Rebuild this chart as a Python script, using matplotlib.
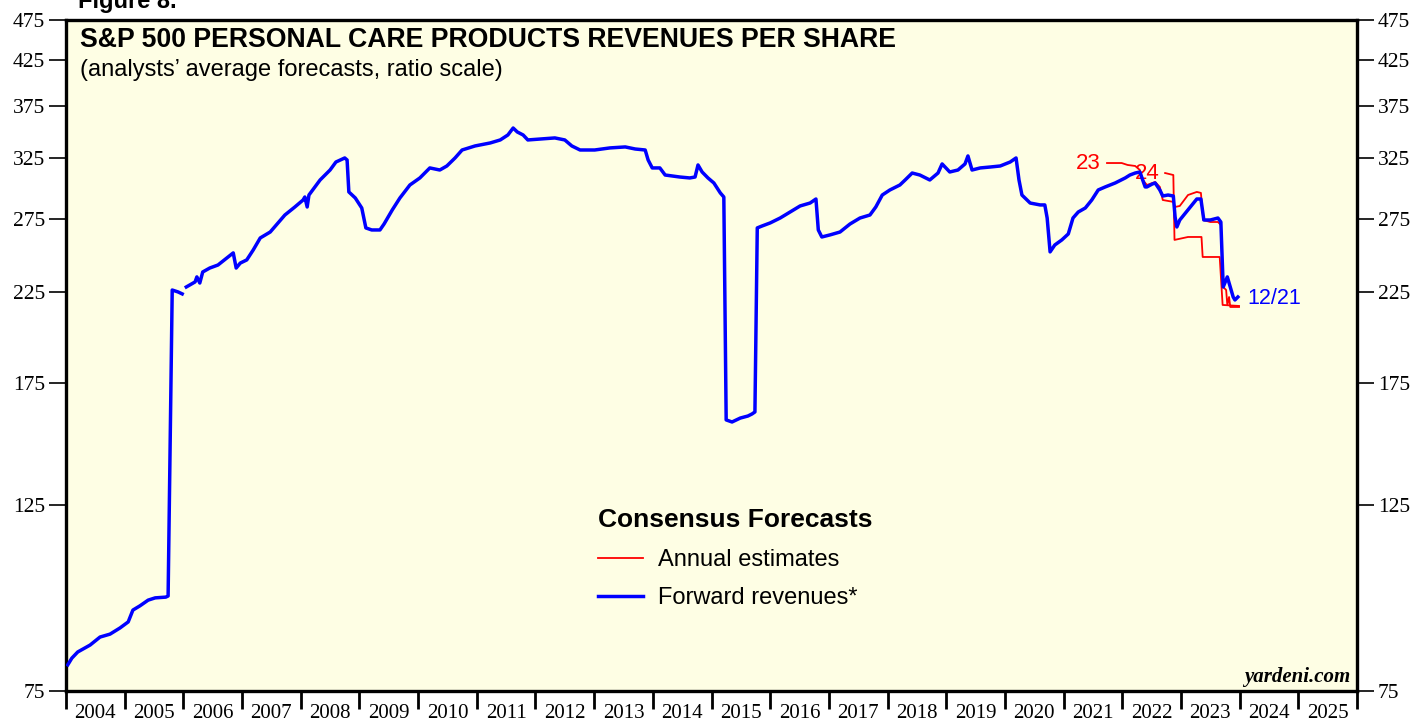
import numpy as np
import matplotlib
matplotlib.use("Agg")
import matplotlib.pyplot as plt
from matplotlib.ticker import FixedLocator, NullFormatter, FixedFormatter

# forward revenues per share (blue), year fraction / value
fwd_year = [
    2004.03, 2004.10, 2004.20, 2004.41, 2004.58, 2004.75, 2004.92, 2005.06, 2005.14, 2005.26,
    2005.40, 2005.52, 2005.70, 2005.74, 2005.81, 2005.91, 2005.98, 2006.01, 2006.05, 2006.20,
    2006.23, 2006.28, 2006.33, 2006.45, 2006.59, 2006.74, 2006.85, 2006.90, 2006.97, 2007.08,
    2007.19, 2007.31, 2007.48, 2007.73, 2007.90, 2008.04, 2008.07, 2008.11, 2008.14, 2008.33,
    2008.50, 2008.60, 2008.75, 2008.79, 2008.82, 2008.93, 2009.04, 2009.11, 2009.21, 2009.35,
    2009.42, 2009.56, 2009.69, 2009.86, 2010.03, 2010.20, 2010.37, 2010.49, 2010.63, 2010.75,
    2010.97, 2011.23, 2011.40, 2011.53, 2011.62, 2011.69, 2011.79, 2011.87, 2012.08, 2012.33,
    2012.50, 2012.62, 2012.76, 2013.01, 2013.27, 2013.53, 2013.70, 2013.87, 2013.92, 2013.99,
    2014.12, 2014.21, 2014.46, 2014.63, 2014.72, 2014.77, 2014.84, 2014.94, 2015.04, 2015.15,
    2015.21, 2015.25, 2015.35, 2015.49, 2015.62, 2015.69, 2015.74, 2015.78, 2015.86, 2016.00,
    2016.17, 2016.34, 2016.51, 2016.68, 2016.78, 2016.82, 2016.88, 2017.02, 2017.19, 2017.36,
    2017.53, 2017.70, 2017.80, 2017.91, 2018.04, 2018.21, 2018.30, 2018.42, 2018.55, 2018.72,
    2018.86, 2018.93, 2019.06, 2019.20, 2019.32, 2019.37, 2019.44, 2019.58, 2019.75, 2019.92,
    2020.09, 2020.19, 2020.24, 2020.29, 2020.43, 2020.60, 2020.68, 2020.72, 2020.77, 2020.85,
    2020.97, 2021.08, 2021.16, 2021.25, 2021.37, 2021.48, 2021.59, 2021.71, 2021.88, 2022.05,
    2022.13, 2022.22, 2022.30, 2022.39, 2022.42, 2022.51, 2022.56, 2022.64, 2022.69, 2022.78,
    2022.87, 2022.90, 2022.93, 2022.98, 2023.12, 2023.27, 2023.34, 2023.39, 2023.50, 2023.63,
    2023.68, 2023.72, 2023.79, 2023.84, 2023.89, 2023.92, 2023.97,
]
fwd_value = [
    80.6, 82.1, 83.5, 85.1, 87.0, 87.7, 89.2, 90.7, 93.7, 94.8,
    96.3, 96.9, 97.1, 97.4, 226.0, 224.8, 223.6, np.nan, 227.9, 231.1,
    234.3, 230.4, 237.5, 240.1, 242.1, 246.8, 250.3, 240.1, 243.4, 245.5,
    252.3, 260.8, 265.1, 277.8, 284.0, 289.5, 291.9, 284.0, 293.5, 305.9,
    314.4, 321.4, 325.0, 323.2, 296.0, 291.1, 283.2, 268.1, 266.6, 266.6,
    271.0, 281.7, 291.1, 301.7, 307.6, 316.2, 314.4, 317.9, 325.0, 332.2,
    335.9, 338.7, 341.5, 346.2, 352.9, 349.1, 346.2, 341.5, 342.4, 343.4,
    341.5, 335.9, 332.2, 332.2, 334.1, 335.0, 333.1, 332.2, 323.2, 316.2,
    316.2, 310.1, 308.4, 307.6, 308.4, 318.8, 312.7, 307.6, 303.4, 295.2,
    291.9, 158.1, 157.2, 158.9, 159.8, 160.7, 161.6, 268.1, 269.5, 271.8,
    275.5, 280.1, 284.8, 287.1, 290.3, 266.6, 261.5, 263.0, 265.1, 271.0,
    275.5, 277.8, 284.0, 293.5, 297.6, 301.7, 305.9, 311.8, 310.1, 305.9,
    311.8, 319.7, 312.7, 314.4, 319.7, 326.8, 314.4, 316.2, 317.0, 317.9,
    321.4, 325.0, 305.9, 293.5, 287.1, 285.6, 285.6, 275.5, 251.0, 255.8,
    259.4, 263.7, 275.5, 280.1, 283.2, 289.5, 297.6, 300.1, 303.4, 307.6,
    310.1, 311.8, 312.7, 300.1, 300.1, 302.5, 303.4, 297.6, 292.7, 293.5,
    292.7, 276.3, 268.8, 274.0, 281.7, 290.3, 290.3, 274.0, 274.0, 275.5,
    272.5, 227.9, 234.3, 227.9, 221.7, 219.9, 221.7,
]

# annual estimate for 2023 (red)
est23_year = [
    2021.74, 2021.99, 2022.09, 2022.22, 2022.30, 2022.35, 2022.42, 2022.56, 2022.64, 2022.69,
    2022.87, 2022.90, 2022.98, 2023.12, 2023.27, 2023.34, 2023.38, 2023.50, 2023.63, 2023.68,
    2023.72, 2023.77, 2023.79, 2023.82, 2023.84, 2023.99,
]
est23_value = [
    320.5, 320.5, 318.8, 317.9, 314.4, 305.9, 301.7, 304.2, 300.1, 289.5,
    288.0, 284.0, 284.8, 293.5, 296.0, 295.2, 274.0, 272.5, 272.5, 270.3,
    227.9, 226.0, 216.9, 221.7, 215.7, 215.7,
]

# annual estimate for 2024 (red)
est24_year = [2022.73, 2022.87, 2022.89, 2023.12, 2023.35, 2023.37, 2023.66, 2023.71, 2023.99]
est24_value = [311.8, 310.1, 259.4, 261.5, 261.5, 247.5, 247.5, 216.9, 216.3]

y_ticks = [75, 125, 175, 225, 275, 325, 375, 425, 475]
years = list(range(2004, 2026))

bg = "#FEFEE4"
serif = "Liberation Serif"
sans = "Liberation Sans"

fig = plt.figure(figsize=(14.16, 7.19), dpi=100)
ax = fig.add_axes([66 / 1416, 1 - 691 / 719, 1291 / 1416, 671 / 719])
ax.set_facecolor(bg)

ax.plot(est23_year, est23_value, color="#FF0000", lw=1.3, label="Annual estimates", zorder=3)
ax.plot(est24_year, est24_value, color="#FF0000", lw=1.3, zorder=3)
ax.plot(fwd_year, fwd_value, color="#0000FF", lw=2.5, label="Forward revenues*", zorder=4)

ax.set_yscale("log")
ax.set_ylim(75, 475)
ax.set_xlim(2004, 2026)

ax.yaxis.set_major_locator(FixedLocator(y_ticks))
ax.yaxis.set_major_formatter(FixedFormatter([str(v) for v in y_ticks]))
ax.yaxis.set_minor_locator(FixedLocator([]))
ax.yaxis.set_minor_formatter(NullFormatter())
ax.tick_params(axis="y", which="major", direction="out", length=12, width=1.2,
               left=True, right=True, labelleft=True, labelright=True, pad=3)

ax.xaxis.set_major_locator(FixedLocator(list(range(2004, 2027))))
ax.xaxis.set_major_formatter(NullFormatter())
ax.xaxis.set_minor_locator(FixedLocator([y + 0.5 for y in years]))
ax.xaxis.set_minor_formatter(FixedFormatter([str(y) for y in years]))
ax.tick_params(axis="x", which="major", direction="out", length=13, width=2)
ax.tick_params(axis="x", which="minor", length=0, pad=9)

for lab in ax.get_xticklabels(minor=True):
    lab.set_fontfamily(serif)
    lab.set_fontsize(15)
for t in ax.yaxis.get_major_ticks():
    t.label1.set_fontfamily(serif)
    t.label1.set_fontsize(15.5)
    t.label2.set_fontfamily(serif)
    t.label2.set_fontsize(15.5)

for sp in ax.spines.values():
    sp.set_linewidth(2.4)
    sp.set_color("black")

ax.text(0.011, 0.970, "S&P 500 PERSONAL CARE PRODUCTS REVENUES PER SHARE",
        transform=ax.transAxes, fontsize=19.2, fontweight="bold", family=sans, va="center")
ax.text(0.011, 0.925, "(analysts\u2019 average forecasts, ratio scale)",
        transform=ax.transAxes, fontsize=17, family=sans, va="center")

ax.text(2021.42, 320.5, "23", color="#FF0000", fontsize=16, family=sans, ha="center", va="center")
ax.text(2022.42, 311, "24", color="#FF0000", fontsize=16, family=sans, ha="center", va="center")
ax.text(2024.13, 221, "12/21", color="#0000FF", fontsize=15.5, family=sans, ha="left", va="center")

ax.text(0.9946, 0.021, "yardeni.com", transform=ax.transAxes, fontsize=15,
        family=serif, fontweight="bold", style="italic", ha="right", va="center")

leg = ax.legend(loc="upper left", bbox_to_anchor=(0.396, 0.304), frameon=False,
                title="Consensus Forecasts", alignment="left",
                prop={"family": sans, "size": 17}, handlelength=1.9,
                handletextpad=0.6, labelspacing=0.7)
leg.get_title().set_fontweight("bold")
leg.get_title().set_fontsize(19)
leg.get_title().set_fontfamily(sans)

fig.text(78 / 1416, 1 - 8 / 719, "Figure 8.", fontsize=17, fontweight="bold", family=sans,
         va="baseline")

fig.savefig("out.png", dpi=100, facecolor="white")
